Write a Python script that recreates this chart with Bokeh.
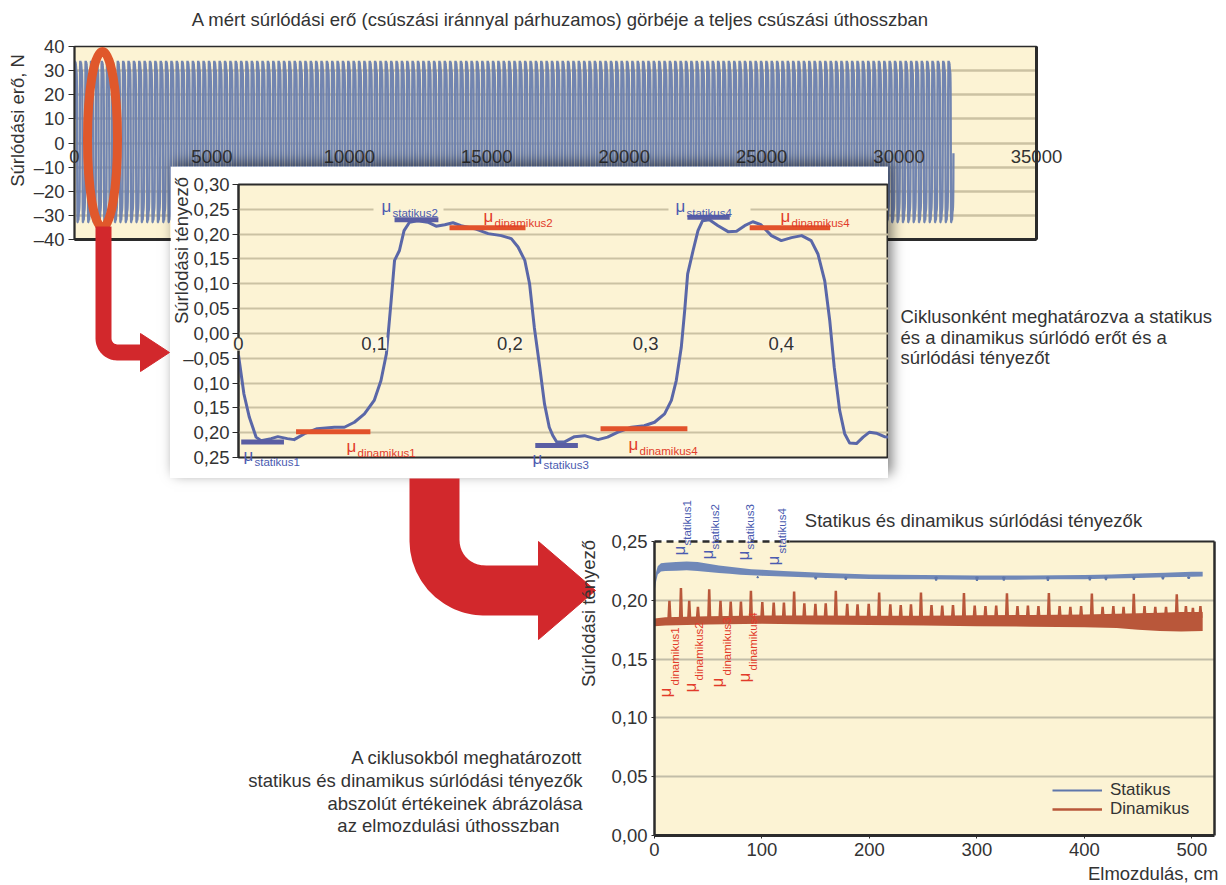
import numpy as np
from bokeh.plotting import figure
from bokeh.models import (Range1d, LinearAxis, FixedTicker, Grid, Legend, LegendItem,
                          LabelSet, ColumnDataSource)
from bokeh.embed import file_html
from bokeh.resources import INLINE
from bokeh.core.properties import value

FONT = "Liberation Sans"
FS = "18.5px"
CREAM = "#fcf3d4"
FRAME = "#2b2b2b"
TXT = "#333333"
GRID_TAN = "#cbc2a3"
GRID_GRAY = "#c2bda8"
TOP_LINE = "#6a7eae"
MID_CURVE = "#5a67a8"
BAR_BLUE = "#5a5ea3"
BAR_RED = "#e2522b"
LBL_BLUE = "#4b5bb0"
LBL_RED = "#e23b2a"
STAT_BLUE = "#7088b8"
STAT_LINE = "#5f77ab"
DYN_RED = "#b9573a"
ARROW_RED = "#d2282c"
ELLIPSE_ORANGE = "#e0582b"

# ---------------- data ----------------
# middle chart: friction coefficient over about two sliding cycles
mid_x = [0.000, 0.004, 0.008, 0.013, 0.0166, 0.024, 0.029, 0.036, 0.041, 0.0486,
         0.058, 0.0707, 0.078, 0.0854, 0.0928, 0.100, 0.105, 0.109, 0.1125, 0.115,
         0.1186, 0.122, 0.126, 0.132, 0.1395, 0.1456, 0.152, 0.158, 0.164, 0.174,
         0.184, 0.1936, 0.201, 0.206, 0.211, 0.2145, 0.218, 0.222, 0.2255, 0.229,
         0.2315, 0.2345, 0.240, 0.2476, 0.255, 0.265, 0.272, 0.2796, 0.2895, 0.299,
         0.3066, 0.314, 0.319, 0.3226, 0.3263, 0.3288, 0.331, 0.335, 0.3386, 0.342,
         0.347, 0.3534, 0.3608, 0.367, 0.373, 0.379, 0.385, 0.3927, 0.400, 0.4075,
         0.415, 0.422, 0.427, 0.432, 0.4357, 0.439, 0.443, 0.4467, 0.4504, 0.4554,
         0.4603, 0.465, 0.470, 0.476, 0.4797]
mid_mu = [-0.044, -0.122, -0.169, -0.209, -0.216, -0.212, -0.208, -0.212, -0.214, -0.202,
          -0.192, -0.189, -0.189, -0.179, -0.162, -0.135, -0.095, -0.041, 0.066, 0.147,
          0.167, 0.207, 0.224, 0.227, 0.224, 0.216, 0.219, 0.223, 0.217, 0.211,
          0.201, 0.197, 0.191, 0.174, 0.147, 0.100, 0.012, -0.068, -0.142, -0.189,
          -0.205, -0.219, -0.219, -0.208, -0.206, -0.214, -0.209, -0.199, -0.189, -0.186,
          -0.179, -0.162, -0.135, -0.095, -0.028, 0.046, 0.120, 0.167, 0.207, 0.227,
          0.229, 0.217, 0.205, 0.206, 0.217, 0.225, 0.219, 0.197, 0.187, 0.193,
          0.197, 0.187, 0.160, 0.106, 0.026, -0.068, -0.155, -0.202, -0.221, -0.222,
          -0.209, -0.199, -0.201, -0.208, -0.209]
mid_x_ticks = [0, 0.1, 0.2, 0.3, 0.4]
mid_x_labels = ["0", "0,1", "0,2", "0,3", "0,4"]
mid_y_ticks = [0.30, 0.25, 0.20, 0.15, 0.10, 0.05, 0.0, -0.05, -0.10, -0.15, -0.20, -0.25]
mid_y_labels = ["0,30", "0,25", "0,20", "0,15", "0,10", "0,05", "0,00", "–0,05",
                "0,10", "0,15", "0,20", "0,25"]
mid_grid = [0.25, 0.20, 0.15, 0.10, 0.05, 0.0, -0.05, -0.10, -0.15, -0.20]

stat_bar_x0 = [0.002, 0.115, 0.2187, 0.3308]
stat_bar_x1 = [0.0335, 0.1473, 0.2501, 0.362]
stat_bar_mu = [-0.219, 0.229, -0.226, 0.234]
dyn_bar_x0 = [0.0424, 0.1555, 0.2668, 0.3767]
dyn_bar_x1 = [0.0972, 0.2115, 0.3308, 0.436]
dyn_bar_mu = [-0.198, 0.213, -0.192, 0.213]
mid_stat_names = ["statikus1", "statikus2", "statikus3", "statikus4"]
mid_dyn_names = ["dinamikus1", "dinamikus2", "dinamikus4", "dinamikus4"]

# top chart: measured friction force (N) over the whole sliding path
top_normal_force = 150.0      # N  (force = mu * normal force)
top_cycles = 164              # number of sliding cycles recorded
top_period = 195              # samples per cycle
top_x_ticks = [0, 5000, 10000, 15000, 20000, 25000, 30000, 35000]
top_x_labels = ["0", "5000", "10000", "15000", "20000", "25000", "30000", "35000"]
top_y_ticks = [40, 30, 20, 10, 0, -10, -20, -30, -40]
top_y_labels = ["40", "30", "20", "10", "0", "–10", "–20", "–30", "–40"]
top_grid = [30, 20, 10, 0, -10, -20, -30]

# bottom chart: static and dynamic friction coefficients vs displacement (cm)
stat_x = [0, 1.5, 3, 6, 10, 20, 30, 40, 50, 60, 70, 80, 90, 100, 120, 140, 160, 180,
          200, 225, 250, 275, 300, 325, 350, 375, 400, 425, 450, 475, 500, 510]
stat_hi = [0.213, 0.224, 0.229, 0.2315, 0.232, 0.2325, 0.233, 0.2325, 0.231, 0.2295,
           0.2285, 0.2275, 0.2265, 0.226, 0.225, 0.224, 0.2232, 0.2225, 0.222, 0.2218,
           0.2215, 0.2212, 0.221, 0.221, 0.221, 0.2212, 0.2215, 0.222, 0.2228, 0.2235,
           0.2242, 0.2243]
stat_lo = [0.207, 0.216, 0.222, 0.2245, 0.225, 0.2252, 0.2255, 0.225, 0.224, 0.2232,
           0.2225, 0.2218, 0.2212, 0.2208, 0.2202, 0.2196, 0.219, 0.2186, 0.2182, 0.218,
           0.2178, 0.2176, 0.2175, 0.2175, 0.2176, 0.2178, 0.218, 0.2185, 0.219, 0.2195,
           0.220, 0.2202]
stat_dip_x = [96, 150, 178, 262, 300, 325, 366, 405, 420, 446, 473, 497]
stat_dip_mu = [0.2195, 0.218, 0.2175, 0.2168, 0.2165, 0.2168, 0.2165, 0.217, 0.2172,
               0.2175, 0.218, 0.2185]
stat_dip_base = 0.2200

dyn_band_x = [0, 10, 50, 100, 150, 200, 250, 300, 350, 400, 430, 450, 470, 490, 510]
dyn_band_lo = [0.178, 0.1785, 0.1795, 0.180, 0.1795, 0.179, 0.1785, 0.178, 0.1775,
               0.177, 0.1765, 0.175, 0.174, 0.1735, 0.174]
dyn_band_hi = [0.1845, 0.1855, 0.1865, 0.187, 0.187, 0.1868, 0.1868, 0.1872, 0.1875,
               0.188, 0.1885, 0.189, 0.1895, 0.190, 0.190]
dyn_spike_x = [14, 24.7, 32.4, 40.5, 51, 61.5, 71, 80.5, 89.8, 100.4, 111, 120.5, 130,
               139.5, 149.8, 159.4, 168.8, 179.4, 189, 199.4, 209.1, 219.5, 229.2, 238.7,
               248, 257.8, 267.8, 277.8, 288, 298, 308, 318, 328, 337.8, 347.5, 357.3,
               367, 377, 387, 397, 407, 417, 427, 436.5, 446, 456, 466, 476, 486, 494.5,
               501, 508]
dyn_spike_top = [0.1995, 0.2105, 0.1995, 0.1945, 0.2094, 0.1995, 0.199, 0.199, 0.208,
                 0.1985, 0.198, 0.198, 0.2075, 0.1975, 0.197, 0.1975, 0.208, 0.197,
                 0.1965, 0.197, 0.2066, 0.1965, 0.196, 0.1965, 0.2066, 0.196, 0.1955,
                 0.196, 0.2062, 0.1955, 0.195, 0.1955, 0.206, 0.195, 0.1955, 0.195,
                 0.2062, 0.195, 0.1945, 0.195, 0.2058, 0.1945, 0.195, 0.1945, 0.2056,
                 0.195, 0.1945, 0.1945, 0.205, 0.195, 0.1935, 0.195]
dyn_spike_base = 0.185
bot_x_ticks = [0, 100, 200, 300, 400, 500]
bot_y_ticks = [0.0, 0.05, 0.10, 0.15, 0.20, 0.25]
bot_y_labels = ["0,00", "0,05", "0,10", "0,15", "0,20", "0,25"]
bot_grid = [0.05, 0.10, 0.15, 0.20]


def place(left, top, extra=None):
    st = {"position": "absolute", "left": f"{left}px", "top": f"{top}px"}
    if extra:
        st.update(extra)
    return st


def style_axis(ax, size=FS):
    ax.major_label_text_font = FONT
    ax.major_label_text_font_size = size
    ax.major_label_text_color = TXT
    ax.minor_tick_line_color = None
    ax.axis_line_color = FRAME


def border_axis(width):
    return LinearAxis(ticker=FixedTicker(ticks=[]), axis_line_color=FRAME,
                      axis_line_width=width, major_tick_line_color=None,
                      minor_tick_line_color=None, major_tick_out=0, major_tick_in=0,
                      major_label_standoff=0, major_label_text_font_size="0px")


def label_layer(frame_left, frame_top, frame_w, frame_h, xr, yr, ticks, labels,
                y_offset, pad=40, bg=None):
    """Transparent layer sharing a chart's scales, used for in-plot tick labels
    (so that labels at the frame edges are not clipped)."""
    dx = (xr[1] - xr[0]) / frame_w * pad
    dy = (yr[1] - yr[0]) / frame_h * pad
    f = figure(width=frame_w + 2 * pad, height=frame_h + 2 * pad,
               x_range=Range1d(xr[0] - dx, xr[1] + dx), y_range=Range1d(yr[0] - dy, yr[1] + dy),
               x_axis_type=None, y_axis_type=None, title=None, toolbar_location=None,
               output_backend="svg", min_border=0, background_fill_alpha=0,
               border_fill_alpha=0, outline_line_color=None,
               styles=place(frame_left - pad, frame_top - pad))
    kw = {}
    if bg:
        kw["background_fill_color"] = bg
    f.add_layout(LabelSet(x="x", y="y", text="t",
                          source=ColumnDataSource(dict(x=ticks, y=[0] * len(ticks), t=labels)),
                          text_align="center", text_baseline="top", y_offset=y_offset,
                          text_font=value(FONT), text_font_size=value(FS), text_color=TXT,
                          **kw))
    return f


# ---------------- top chart ----------------
top = figure(width=1060, height=250, x_range=Range1d(0, 35000), y_range=Range1d(-40, 40),
             x_axis_type=None, y_axis_type=None, title=None, toolbar_location=None,
             output_backend="svg", min_border_left=74, min_border_right=24,
             min_border_top=46, min_border_bottom=11, background_fill_color=CREAM,
             border_fill_color="white", outline_line_color=FRAME, outline_line_width=1.5,
             styles=place(0, 0))
top.add_layout(Grid(dimension=1, ticker=FixedTicker(ticks=top_grid),
                    grid_line_color=GRID_TAN, grid_line_width=2.5))

mx = np.array(mid_x)
mm = np.array(mid_mu)
sel = (mx >= 0.1125) & (mx < 0.3288)
prof_phase = (mx[sel] - 0.1125) / (0.3288 - 0.1125)
prof_force = mm[sel] * top_normal_force
top_xs = np.concatenate([(k + prof_phase) * top_period for k in range(top_cycles)])
top_ys = np.tile(prof_force, top_cycles)
top.line(top_xs, top_ys, line_color=TOP_LINE, line_width=2.3, line_alpha=0.95)

ty = LinearAxis(ticker=FixedTicker(ticks=top_y_ticks),
                major_label_overrides={t: s for t, s in zip(top_y_ticks, top_y_labels)},
                axis_line_width=2, major_tick_out=6, major_tick_in=0,
                major_tick_line_color=FRAME, major_label_standoff=4)
style_axis(ty)
top.add_layout(ty, "left")
top.add_layout(border_axis(3), "right")
top.add_layout(border_axis(3), "below")

top_lbl = label_layer(74, 46, 962, 193, (0, 35000), (-40, 40), top_x_ticks, top_x_labels,
                      y_offset=-7)

# ---------------- middle chart ----------------
mid = figure(width=718, height=312, x_range=Range1d(0, 0.479), y_range=Range1d(-0.25, 0.30),
             x_axis_type=None, y_axis_type=None, title=None, toolbar_location=None,
             output_backend="svg", min_border_left=68, min_border_right=0,
             min_border_top=18, min_border_bottom=21, background_fill_color=CREAM,
             border_fill_color="white", outline_line_color=FRAME, outline_line_width=2,
             styles=place(170, 166, {"box-shadow": "4px -4px 12px rgba(0,0,0,0.5)"}))
mid.add_layout(Grid(dimension=1, ticker=FixedTicker(ticks=mid_grid),
                    grid_line_color=GRID_TAN, grid_line_width=2))
mid.line(mid_x, mid_mu, line_color=MID_CURVE, line_width=3, line_join="round")
mid.segment(x0=stat_bar_x0, y0=stat_bar_mu, x1=stat_bar_x1, y1=stat_bar_mu,
            line_color=BAR_BLUE, line_width=5)
mid.segment(x0=dyn_bar_x0, y0=dyn_bar_mu, x1=dyn_bar_x1, y1=dyn_bar_mu,
            line_color=BAR_RED, line_width=5)
my = LinearAxis(ticker=FixedTicker(ticks=mid_y_ticks),
                major_label_overrides={t: s for t, s in zip(mid_y_ticks, mid_y_labels)},
                axis_line_width=2, major_tick_out=6, major_tick_in=0,
                major_tick_line_color=FRAME, major_label_standoff=3)
style_axis(my)
mid.add_layout(my, "left")

mid_lbl = label_layer(238, 184, 650, 273, (0, 0.479), (-0.25, 0.30), mid_x_ticks,
                      mid_x_labels, y_offset=-4, bg="#fdf7e4")

# ---------------- bottom chart ----------------
bot = figure(width=636, height=385, x_range=Range1d(0, 521), y_range=Range1d(0, 0.25),
             x_axis_type=None, y_axis_type=None, title=None, toolbar_location=None,
             output_backend="svg", min_border_left=64, min_border_right=12,
             min_border_top=41, min_border_bottom=50, background_fill_color=CREAM,
             border_fill_color=None, outline_line_color=None,
             styles=place(590, 500))
bot.add_layout(Grid(dimension=1, ticker=FixedTicker(ticks=bot_grid),
                    grid_line_color=GRID_GRAY, grid_line_width=2))
bot.varea(x=stat_x, y1=stat_lo, y2=stat_hi, fill_color=STAT_BLUE)
dip_x, dip_y = [], []
for dx_, dv in zip(stat_dip_x, stat_dip_mu):
    dip_x += [dx_ - 0.8, dx_, dx_ + 0.8, np.nan]
    dip_y += [stat_dip_base, dv, stat_dip_base, np.nan]
stat_r = bot.line(dip_x, dip_y, line_color=STAT_LINE, line_width=2)
bot.varea(x=dyn_band_x, y1=dyn_band_lo, y2=dyn_band_hi, fill_color=DYN_RED)
sp_x, sp_y = [], []
for sx, sv in zip(dyn_spike_x, dyn_spike_top):
    sp_x += [sx - 0.9, sx - 0.1, sx + 0.7, np.nan]
    sp_y += [dyn_spike_base, sv, dyn_spike_base, np.nan]
dyn_r = bot.line(sp_x, sp_y, line_color=DYN_RED, line_width=2.5)

by = LinearAxis(ticker=FixedTicker(ticks=bot_y_ticks),
                major_label_overrides={t: s for t, s in zip(bot_y_ticks, bot_y_labels)},
                axis_line_width=2.5, major_tick_out=3, major_tick_in=0,
                major_tick_line_color=FRAME, major_label_standoff=4)
style_axis(by)
bot.add_layout(by, "left")
bx = LinearAxis(ticker=FixedTicker(ticks=bot_x_ticks), axis_line_width=3,
                major_tick_out=3, major_tick_in=0, major_tick_line_color=FRAME,
                major_label_standoff=4)
style_axis(bx)
bot.add_layout(bx, "below")
bot.add_layout(border_axis(2.5), "right")
for item_label, rend, loc in [("Statikus", stat_r, (398, 35)), ("Dinamikus", dyn_r, (398, 16))]:
    bot.add_layout(Legend(items=[LegendItem(label=item_label, renderers=[rend])],
                          location=loc, orientation="vertical", padding=0, margin=0,
                          spacing=0, glyph_width=50, glyph_height=16, label_height=16,
                          label_standoff=8, label_text_font=FONT, label_text_font_size="17px",
                          label_text_color=TXT, background_fill_alpha=0,
                          border_line_color=None))

# ---------------- overlay (arrows, marker ellipse, free texts) ----------------
ov = figure(width=1226, height=885, x_range=Range1d(0, 1226), y_range=Range1d(885, 0),
            x_axis_type=None, y_axis_type=None, title=None, toolbar_location=None,
            output_backend="svg", min_border=0, background_fill_alpha=0,
            border_fill_alpha=0, outline_line_color=None, styles=place(0, 0))

ov.ellipse(x=[102], y=[139], width=[30], height=[176], fill_color=None,
           line_color=ELLIPSE_ORANGE, line_width=9)

# arrow 1: from the marked region to the zoomed chart
th = np.linspace(np.pi, np.pi / 2, 12)
a1x = [103, 103] + list(117 + 14 * np.cos(th)) + [142]
a1y = [226, 338] + list(338 + 14 * np.sin(th)) + [352]
ov.line(a1x, a1y, line_color=ARROW_RED, line_width=16, line_join="round")
ov.patch([140, 169, 140], [333, 352, 371], fill_color=ARROW_RED, line_color=ARROW_RED)

# arrow 2: from the zoomed chart to the coefficient chart
a2x = [434, 434] + list(484 + 50 * np.cos(th)) + [545]
a2y = [478, 540] + list(540 + 50 * np.sin(th)) + [590]
ov.line(a2x, a2y, line_color=ARROW_RED, line_width=50, line_join="round")
ov.patch([538, 595, 538], [541, 590, 639], fill_color=ARROW_RED, line_color=ARROW_RED)

# dashed/solid top border of the bottom chart
ov.line([654, 789], [541, 541], line_color=FRAME, line_width=2.5, line_dash="7 5")
ov.line([789, 1214], [541, 541], line_color=FRAME, line_width=2)

# label boxes that interrupt the 0,25 grid line of the middle chart
ov.quad(left=[373, 668], right=[443, 750], top=[205, 205], bottom=[212.5, 212.5],
        fill_color=CREAM, line_color=None)


def txt(x, y, s, size=FS, color=TXT, align="left", baseline="middle", angle=0.0):
    ov.text(x=[x], y=[y], text=[s], text_font=value(FONT),
            text_font_size=value(size), text_color=color, text_align=align,
            text_baseline=baseline, angle=angle)


def mu_label(x, y, sub, color):
    txt(x, y, "μ", "17px", color, baseline="alphabetic")
    txt(x + 11, y + 6.5, sub, "11.5px", color, baseline="alphabetic")


def mu_label_rot(x, y, xs, ys, sub, color):
    txt(x, y, "μ", "17px", color, baseline="alphabetic", angle=np.pi / 2)
    txt(xs, ys, sub, "11.5px", color, baseline="alphabetic", angle=np.pi / 2)


# middle chart μ labels
mu_label(243, 455, mid_stat_names[0], LBL_BLUE)
mu_label(346, 446, mid_dyn_names[0], LBL_RED)
mu_label(381, 206, mid_stat_names[1], LBL_BLUE)
mu_label(483, 216, mid_dyn_names[1], LBL_RED)
mu_label(532, 458, mid_stat_names[2], LBL_BLUE)
mu_label(628, 444, mid_dyn_names[2], LBL_RED)
mu_label(675, 206, mid_stat_names[3], LBL_BLUE)
mu_label(780, 216, mid_dyn_names[3], LBL_RED)

# bottom chart rotated μ labels
mu_label_rot(679, 555, 686, 545, "statikus1", LBL_BLUE)
mu_label_rot(707, 559, 714.5, 549, "statikus2", LBL_BLUE)
mu_label_rot(742.5, 560, 749.5, 549, "statikus3", LBL_BLUE)
mu_label_rot(773, 565, 781, 553, "statikus4", LBL_BLUE)
mu_label_rot(665, 697, 674.5, 685, "dinamikus1", LBL_RED)
mu_label_rot(690, 692, 698.5, 680, "dinamikus2", LBL_RED)
mu_label_rot(716.5, 687, 726, 675, "dinamikus3", LBL_RED)
mu_label_rot(744, 682, 752.5, 670, "dinamikus4", LBL_RED)

# titles and axis titles
txt(560, 19, "A mért súrlódási erő (csúszási iránnyal párhuzamos) görbéje a teljes csúszási úthosszban",
    align="center")
txt(17, 120, "Súrlódási erő, N", align="center", angle=np.pi / 2)
txt(181, 250, "Súrlódási tényező", align="center", angle=np.pi / 2)
txt(588, 613, "Súrlódási tényező", align="center", angle=np.pi / 2)
txt(973, 520, "Statikus és dinamikus súrlódási tényezők", align="center")
txt(1218, 873, "Elmozdulás, cm", align="right")

for i, line in enumerate(["Ciklusonként meghatározva a statikus",
                          "és a dinamikus súrlódó erőt és a",
                          "súrlódási tényezőt"]):
    txt(900, 316 + 20.5 * i, line)

for line, xr_, yy in [("A ciklusokból meghatározott", 582, 757),
                      ("statikus és dinamikus súrlódási tényezők", 582, 780),
                      ("abszolút értékeinek ábrázolása", 582, 803),
                      ("az elmozdulási úthosszban", 559, 825)]:
    txt(xr_, yy, line, align="right")

open("out.html", "w").write(file_html([top, top_lbl, mid, mid_lbl, bot, ov], INLINE))
